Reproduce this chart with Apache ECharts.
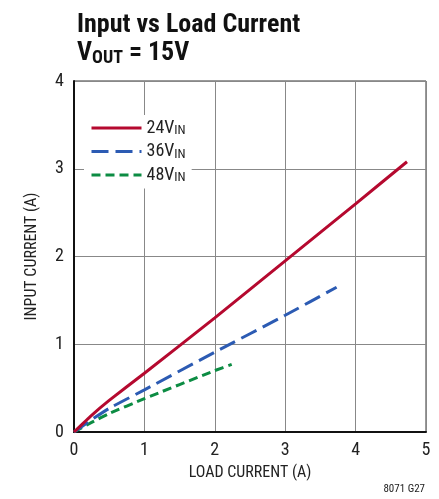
<!DOCTYPE html>
<html><head><meta charset="utf-8">
<script src="https://cdn.jsdelivr.net/npm/echarts@6/dist/echarts.min.js"></script>
<style>html,body{margin:0;padding:0;background:#fff}#c{width:439px;height:499px}</style>
</head><body><div id="c"></div>
<script>
const FONT = "'Liberation Sans Narrow','Arial Narrow','Roboto Condensed',sans-serif";
const xTicks = [0, 1, 2, 3, 4, 5];
const yTicks = [0, 1, 2, 3, 4];
const vin24 = [[0,0],[0.25,0.19],[0.5,0.36],[1,0.67],[2,1.30],[3,1.95],[4,2.60],[4.73,3.08]];
const vin36 = [[0,0],[0.25,0.14],[0.5,0.27],[1,0.48],[2,0.91],[3,1.33],[3.73,1.65]];
const vin48 = [[0,0],[0.25,0.11],[0.5,0.21],[1,0.38],[2,0.70],[2.24,0.77]];
const names = ['24V_IN','36V_IN','48V_IN'];

const chart = echarts.init(document.getElementById('c'));
chart.setOption({
  animation:false,
  backgroundColor:'#fff',
  title:{
    left:72, top:6,
    text:'{a|Input vs Load Current}\n{a|V}{s|OUT}{a| = 15V}',
    textStyle:{
      rich:{
        a:{fontFamily:FONT,fontWeight:'bold',fontSize:26,color:'#111',lineHeight:28},
        s:{fontFamily:FONT,fontWeight:'bold',fontSize:18,color:'#111',lineHeight:28,verticalAlign:'bottom',padding:[8,0,0,0]}
      }
    }
  },
  legend:{
    orient:'vertical', left:84, top:115,
    backgroundColor:'#fff', padding:[4,6,4,6],
    itemWidth:50, itemHeight:12, itemGap:5,
    itemStyle:{opacity:0},
    lineStyle:{width:3},
    data:names,
    formatter:function(n){const p=n.split('_');return '{a|'+p[0]+'}{s|'+p[1]+'}';},
    textStyle:{rich:{
      a:{fontFamily:FONT,fontSize:18,color:'#222'},
      s:{fontFamily:FONT,fontSize:13,color:'#222',verticalAlign:'bottom',padding:[6,0,0,0]}
    }}
  },
  grid:{left:74,right:13,top:81,bottom:67,show:true,borderColor:'#333',borderWidth:1},
  xAxis:{
    type:'value',min:xTicks[0],max:xTicks[xTicks.length-1],interval:1,
    name:'LOAD CURRENT (A)',nameLocation:'middle',nameGap:33,
    nameTextStyle:{fontFamily:FONT,fontSize:16,color:'#222'},
    axisLine:{lineStyle:{color:'#111',width:2}},
    axisTick:{show:false},
    axisLabel:{fontFamily:FONT,fontSize:18,color:'#222',margin:9},
    splitLine:{lineStyle:{color:'#888',width:1}}
  },
  yAxis:{
    type:'value',min:yTicks[0],max:yTicks[yTicks.length-1],interval:1,
    name:'INPUT CURRENT (A)',nameLocation:'middle',nameGap:34,
    nameTextStyle:{fontFamily:FONT,fontSize:16,color:'#222'},
    axisLine:{show:true,lineStyle:{color:'#111',width:2}},
    axisTick:{show:false},
    axisLabel:{fontFamily:FONT,fontSize:18,color:'#222',margin:10},
    splitLine:{lineStyle:{color:'#888',width:1}}
  },
  graphic:[{type:'text',right:14,bottom:4,style:{text:'8071 G27',fontFamily:FONT,fontSize:11,fill:'#222'}}],
  series:[
    {name:names[0],type:'line',data:vin24,symbol:'none',smooth:0.15,z:5,
     lineStyle:{color:'#b5092f',width:3},itemStyle:{color:'#b5092f'}},
    {name:names[1],type:'line',data:vin36,symbol:'none',smooth:0.15,z:4,
     lineStyle:{color:'#2c5bb3',width:3,type:[17,7]},itemStyle:{color:'#2c5bb3'}},
    {name:names[2],type:'line',data:vin48,symbol:'none',smooth:0.15,z:3,
     lineStyle:{color:'#0c8c43',width:3,type:[9,5]},itemStyle:{color:'#0c8c43'}}
  ]
});
</script></body></html>
